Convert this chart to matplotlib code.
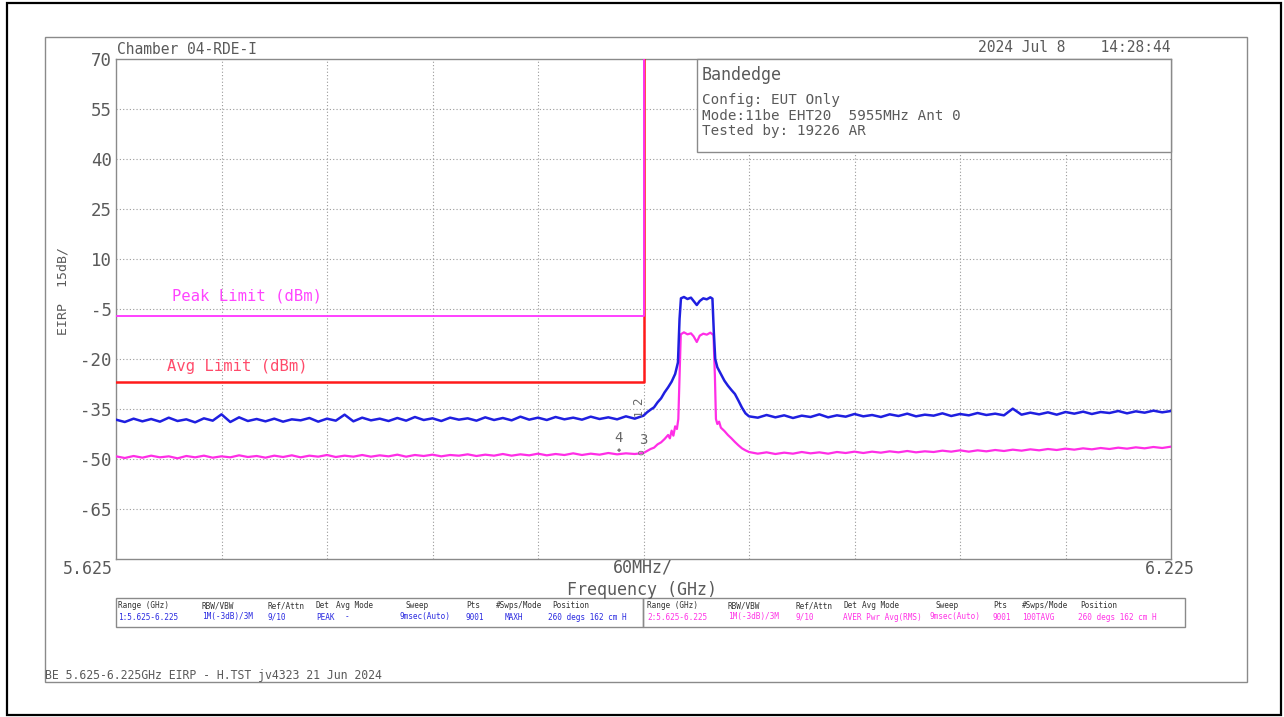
import numpy as np
import matplotlib
matplotlib.use("Agg")
import matplotlib.pyplot as plt
from matplotlib.patches import Rectangle

plt.rcParams['font.family'] = ['DejaVu Sans Mono']

W, H = 1284, 717

# ---------------- data ----------------
left_floor_start, left_floor_step = 5.625, 0.005
blue_left = [-38.2, -38.9, -37.9, -38.7, -38.0, -38.8, -37.6, -38.6, -38.1, -39.0,
             -37.8, -38.5, -36.6, -38.9, -37.5, -38.6, -38.0, -38.7, -37.9, -38.8,
             -38.1, -38.4, -37.7, -38.8, -37.9, -38.5, -36.7, -38.7, -37.6, -38.4,
             -37.9, -38.6, -37.7, -38.5, -37.4, -38.3, -37.8, -38.6, -37.6, -38.2,
             -37.8, -38.5, -37.5, -38.3, -37.7, -38.4, -37.3, -38.2, -37.6, -38.3,
             -37.4, -38.1, -37.6, -38.2, -37.3, -38.0, -37.5, -38.1, -37.2, -37.9]
mag_left = [-49.2, -49.7, -49.1, -49.6, -49.0, -49.5, -49.2, -49.8, -49.1, -49.5,
            -49.0, -49.6, -49.2, -49.5, -48.9, -49.4, -49.1, -49.6, -49.0, -49.4,
            -48.9, -49.5, -49.0, -49.3, -48.8, -49.4, -49.0, -49.3, -48.8, -49.3,
            -48.9, -49.2, -48.7, -49.3, -48.8, -49.1, -48.7, -49.2, -48.8, -49.0,
            -48.6, -49.1, -48.7, -49.0, -48.5, -49.0, -48.6, -48.9, -48.4, -48.9,
            -48.5, -48.8, -48.3, -48.8, -48.4, -48.7, -48.2, -48.6, -48.3, -48.5]

blue_mid_freq = [5.925, 5.927, 5.929, 5.931, 5.933, 5.935, 5.937, 5.939, 5.941, 5.943,
                 5.9446, 5.9455, 5.9463, 5.948, 5.950, 5.952, 5.9535, 5.9553, 5.957, 5.959,
                 5.961, 5.963, 5.9642, 5.9650, 5.9658, 5.967, 5.969, 5.971, 5.973, 5.975,
                 5.977, 5.979, 5.981, 5.983, 5.985]
blue_mid = [-37.0, -36.0, -35.2, -34.5, -33.0, -31.8, -30.0, -28.5, -26.8, -24.5,
            -21.0, -8.0, -1.8, -1.4, -2.0, -1.6, -2.6, -3.8, -2.6, -1.8,
            -2.1, -1.5, -1.9, -12.0, -20.0, -22.5, -24.5, -26.5, -28.0, -29.3,
            -30.5, -32.5, -34.6, -36.3, -37.2]

mag_mid_freq = [5.925, 5.927, 5.929, 5.931, 5.933, 5.935, 5.937, 5.939, 5.940, 5.941,
                5.942, 5.943, 5.944, 5.9448, 5.9455, 5.9462, 5.948, 5.950, 5.952, 5.9535,
                5.9553, 5.957, 5.959, 5.961, 5.963, 5.9648, 5.9656, 5.9662, 5.967, 5.968,
                5.969, 5.971, 5.973, 5.975, 5.977, 5.979, 5.981, 5.983, 5.985]
mag_mid = [-48.2, -47.6, -47.0, -46.6, -45.6, -45.0, -44.0, -42.8, -43.8, -41.5,
           -43.0, -40.2, -41.0, -38.0, -25.0, -12.6, -12.0, -12.6, -12.3, -13.2,
           -14.9, -13.0, -12.4, -12.7, -12.1, -12.8, -25.0, -38.0, -39.5, -38.8,
           -40.6, -41.6, -42.8, -43.8, -44.9, -45.9, -46.8, -47.4, -47.9]

right_floor_start, right_floor_step = 5.990, 0.005
blue_right = [-37.6, -36.8, -37.5, -36.9, -37.7, -37.0, -37.4, -36.6, -37.5, -36.9,
              -37.3, -36.5, -37.2, -36.8, -37.4, -36.6, -37.1, -36.4, -37.2, -36.7,
              -37.0, -36.3, -37.1, -36.5, -36.9, -36.2, -36.8, -36.4, -36.9, -34.9,
              -36.7, -36.1, -36.6, -36.0, -36.7, -35.9, -36.4, -35.8, -36.5, -35.9,
              -36.2, -35.6, -36.3, -35.7, -36.1, -35.5, -36.0, -35.6]
mag_right = [-48.4, -48.0, -48.5, -48.1, -48.4, -47.9, -48.3, -48.0, -48.4, -47.9,
             -48.2, -47.8, -48.2, -47.8, -48.1, -47.7, -48.0, -47.6, -48.0, -47.7,
             -47.9, -47.5, -47.8, -47.4, -47.8, -47.4, -47.7, -47.3, -47.6, -47.2,
             -47.5, -47.1, -47.4, -47.0, -47.3, -46.9, -47.2, -46.8, -47.1, -46.7,
             -47.0, -46.6, -46.9, -46.5, -46.8, -46.4, -46.7, -46.3]

peak_limit_freq = [5.625, 5.925, 5.925]
peak_limit_vals = [-7, -7, 70]
avg_limit_freq = [5.625, 5.925, 5.925]
avg_limit_vals = [-27, -27, 70]

x_min, x_max, x_step = 5.625, 6.225, 0.06
y_min, y_max, y_step = -80, 70, 15
y_tick_labels = ['70', '55', '40', '25', '10', '-5', '-20', '-35', '-50', '-65']

table_headers = ['Range (GHz)', 'RBW/VBW', 'Ref/Attn', 'Det', 'Avg Mode', 'Sweep',
                 'Pts', '#Swps/Mode', 'Position']
table1_values = ['1:5.625-6.225', '1M(-3dB)/3M', '9/10', 'PEAK', '-', '9msec(Auto)',
                 '9001', 'MAXH', '260 degs 162 cm H']
table2_values = ['2:5.625-6.225', '1M(-3dB)/3M', '9/10', 'AVER Pwr Avg(RMS)', '',
                 '9msec(Auto)', '9001', '100TAVG', '260 degs 162 cm H']

# ---------------- build traces ----------------
lf = left_floor_start + left_floor_step * np.arange(len(blue_left))
rf = right_floor_start + right_floor_step * np.arange(len(blue_right))
blue_x = np.concatenate([lf, blue_mid_freq, rf])
blue_y = np.concatenate([blue_left, blue_mid, blue_right])
mag_x = np.concatenate([lf, mag_mid_freq, rf])
mag_y = np.concatenate([mag_left, mag_mid, mag_right])

fig = plt.figure(figsize=(W / 100, H / 100), dpi=100)

def fx(px):
    return px / W

def fy(py):
    return 1 - py / H

TXT = '#5a5a5a'

# frames
fig.patches.append(Rectangle((fx(7), fy(715)), fx(1281) - fx(7), fy(3) - fy(715),
                             transform=fig.transFigure, fill=False, ec='black', lw=1.6))
fig.patches.append(Rectangle((fx(45), fy(682)), fx(1247) - fx(45), fy(37) - fy(682),
                             transform=fig.transFigure, fill=False, ec='#8a8a8a', lw=1.0))

ax = fig.add_axes([fx(116), fy(559), fx(1171) - fx(116), fy(59) - fy(559)])
ax.set_xlim(x_min, x_max)
ax.set_ylim(y_min, y_max)
for s in ax.spines.values():
    s.set_color('#8a8a8a')
    s.set_linewidth(1.0)

grid_x = x_min + x_step * np.arange(1, 10)
grid_y = y_min + y_step * np.arange(1, 10)
for gx in grid_x:
    ax.axvline(gx, color='#9a9a9a', lw=0.8, ls=(0, (1, 2)), zorder=1)
for gy in grid_y:
    ax.axhline(gy, color='#9a9a9a', lw=0.8, ls=(0, (1, 2)), zorder=1)

ax.set_xticks([])
ax.set_yticks(y_max - y_step * np.arange(len(y_tick_labels)))
ax.set_yticklabels(y_tick_labels, fontsize=12.5, color=TXT)
ax.tick_params(axis='y', length=0, pad=3)

# limits
ax.plot(avg_limit_freq, avg_limit_vals, color='#ff1a1a', lw=1.8, zorder=3)
ax.plot(peak_limit_freq, peak_limit_vals, color='#ff33ff', lw=1.3, zorder=4)

# traces
ax.plot(mag_x, mag_y, color='#ff2ee6', lw=1.6, zorder=5)
ax.plot(blue_x, blue_y, color='#1f1fe0', lw=1.8, zorder=6)

# markers
ax.text(5.9224, -32.8, '2', rotation=90, fontsize=9, color='#666666', ha='center', va='center', zorder=7)
ax.text(5.9224, -36.0, '1', rotation=90, fontsize=8, color='#666666', ha='center', va='center', zorder=7)
ax.text(5.9110, -43.7, '4', fontsize=10, color='#666666', ha='center', va='center', zorder=7)
ax.text(5.9113, -47.6, '\u25c6', fontsize=5, color='#777777', ha='center', va='center', zorder=7)
ax.text(5.9250, -44.4, '3', fontsize=10, color='#666666', ha='center', va='center', zorder=7)
ax.text(5.9238, -47.8, 'o', rotation=90, fontsize=7, color='#777777', ha='center', va='center', zorder=7)

# limit labels
ax.text(5.657, -1.0, 'Peak Limit (dBm)', fontsize=11.2, color='#ff44ff', va='center')
ax.text(5.654, -22.3, 'Avg Limit (dBm)', fontsize=11.2, color='#ff4a6a', va='center')

# info box
fig.patches.append(Rectangle((fx(697), fy(152)), fx(1171) - fx(697), fy(59) - fy(152),
                             transform=fig.transFigure, fc='white', ec='#8a8a8a', lw=1.0, zorder=10))
fig.text(fx(702), fy(75), 'Bandedge', fontsize=12, color=TXT, va='center', zorder=11)
fig.text(fx(702), fy(100), 'Config: EUT Only', fontsize=10.3, color=TXT, va='center', zorder=11)
fig.text(fx(702), fy(115.5), 'Mode:11be EHT20  5955MHz Ant 0', fontsize=10.3, color=TXT, va='center', zorder=11)
fig.text(fx(702), fy(131), 'Tested by: 19226 AR', fontsize=10.3, color=TXT, va='center', zorder=11)

# headers
fig.text(fx(117), fy(49), 'Chamber 04-RDE-I', fontsize=10.5, color=TXT, va='center')
fig.text(fx(1171), fy(48), '2024 Jul 8    14:28:44', fontsize=10.5, color=TXT, va='center', ha='right')

# axis labels
fig.text(fx(63), fy(291), 'EIRP  15dB/', rotation=90, fontsize=9.5, color=TXT, va='center', ha='center')
fig.text(fx(113), fy(569), '5.625', fontsize=12, color=TXT, va='center', ha='right')
fig.text(fx(1170), fy(569), '6.225', fontsize=12, color=TXT, va='center', ha='center')
fig.text(fx(643), fy(568), '60MHz/', fontsize=12, color=TXT, va='center', ha='center')
fig.text(fx(642), fy(590), 'Frequency (GHz)', fontsize=12, color=TXT, va='center', ha='center')

# tables
fig.patches.append(Rectangle((fx(116), fy(627)), fx(643) - fx(116), fy(598) - fy(627),
                             transform=fig.transFigure, fill=False, ec='#8a8a8a', lw=1.0))
fig.patches.append(Rectangle((fx(643), fy(627)), fx(1185) - fx(643), fy(598) - fy(627),
                             transform=fig.transFigure, fill=False, ec='#8a8a8a', lw=1.0))
col1 = [118, 202, 267, 316, 336, 405, 466, 496, 552]
val1 = [118, 202, 267, 316, 345, 400, 466, 505, 548]
col2 = [647, 728, 795, 843, 862, 935, 993, 1022, 1080]
val2 = [647, 728, 795, 843, 862, 930, 993, 1022, 1078]
for h, x1, x2 in zip(table_headers, col1, col2):
    fig.text(fx(x1), fy(606), h, fontsize=5.6, color='#333333', va='center')
    fig.text(fx(x2), fy(606), h, fontsize=5.6, color='#333333', va='center')
for v, x1 in zip(table1_values, val1):
    fig.text(fx(x1), fy(617), v, fontsize=5.6, color='#2a2ae0', va='center')
for v, x2 in zip(table2_values, val2):
    if v:
        fig.text(fx(x2), fy(617), v, fontsize=5.6, color='#ff33e6', va='center')

# footer
fig.text(fx(45), fy(676), 'BE 5.625-6.225GHz EIRP - H.TST jv4323 21 Jun 2024',
         fontsize=8.3, color=TXT, va='center')

fig.savefig('out.png', dpi=100)
